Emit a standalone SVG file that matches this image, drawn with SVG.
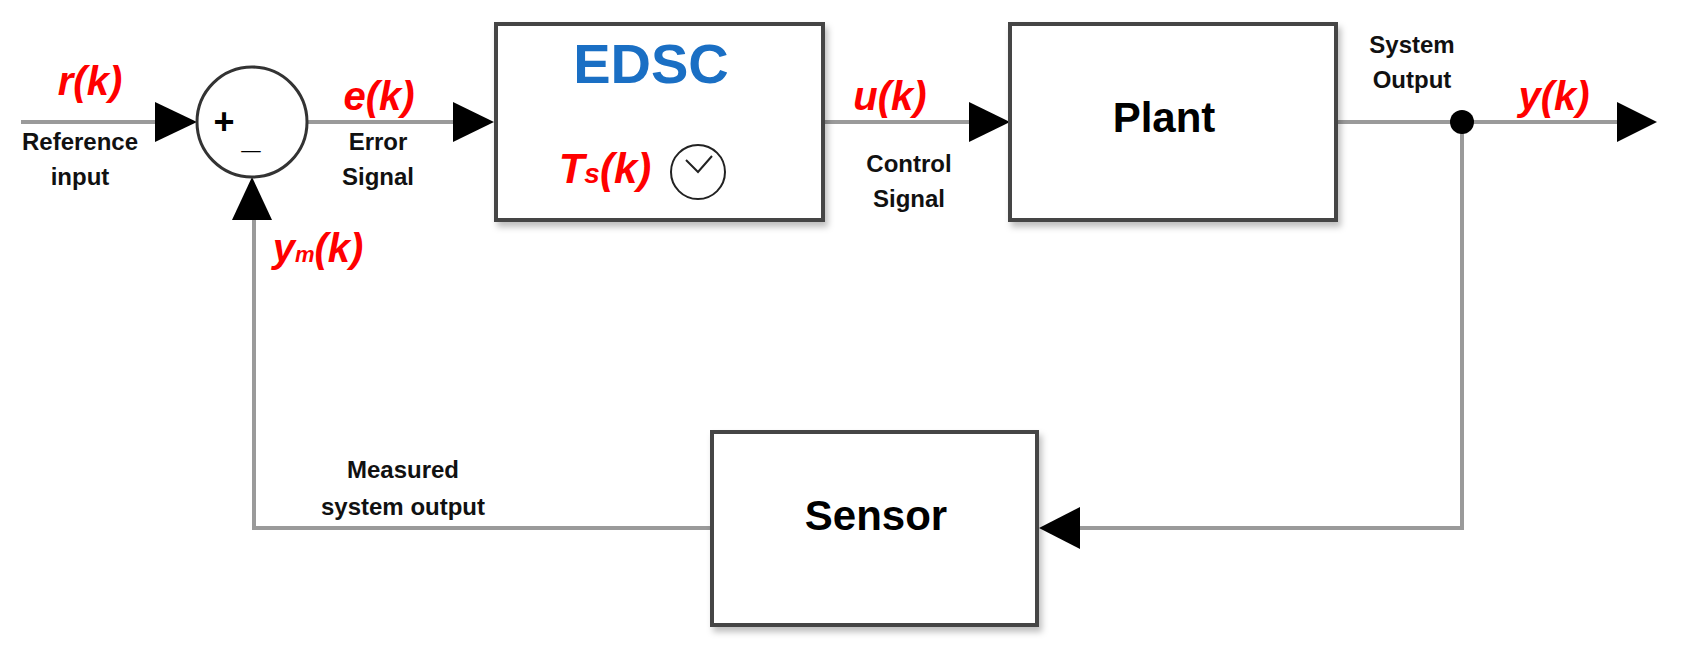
<svg xmlns="http://www.w3.org/2000/svg" width="1681" height="670" viewBox="0 0 1681 670">
<defs>
<style>
.ln{stroke:#9a9a9a;stroke-width:4;fill:none}
.box{fill:#fff;stroke:#444;stroke-width:4}
.ah{fill:#000}
.red{fill:#f00;font-family:"Liberation Sans",Arial,sans-serif;font-weight:bold;font-style:italic;font-size:40px;text-anchor:middle}
.lab{fill:#111;font-family:"Liberation Sans Narrow","Liberation Sans",Arial,sans-serif;font-weight:bold;font-size:24px;text-anchor:middle}
.big{fill:#000;font-family:"Liberation Sans",Arial,sans-serif;font-weight:bold;font-size:42px;text-anchor:middle}
</style>
<filter id="sh" x="-10%" y="-10%" width="130%" height="130%"><feDropShadow dx="3" dy="5" stdDeviation="3" flood-color="#000" flood-opacity="0.25"/></filter>
</defs>
<g id="connectors">
<line class="ln" x1="21" y1="122" x2="160" y2="122"/>
<line class="ln" x1="307" y1="122" x2="456" y2="122"/>
<line class="ln" x1="823" y1="122" x2="972" y2="122"/>
<line class="ln" x1="1336" y1="122" x2="1620" y2="122"/>
<polyline class="ln" points="1462,122 1462,528 1078,528"/>
<polyline class="ln" points="712,528 254,528 254,218"/>
<polygon class="ah" points="155,102 197,122 155,142"/>
<polygon class="ah" points="453,102 494,122 453,142"/>
<polygon class="ah" points="969,102 1010,122 969,142"/>
<polygon class="ah" points="1617,102 1657,122 1617,142"/>
<polygon class="ah" points="232,220 252,177 272,220"/>
<polygon class="ah" points="1080,507 1039,528 1080,549"/>
<circle cx="1462" cy="122" r="12" fill="#000"/>
</g>
<g id="sum">
<circle cx="252" cy="122" r="55" fill="#fff" stroke="#333" stroke-width="3"/>
<text x="224" y="134" style="font-family:'Liberation Sans',Arial,sans-serif;font-size:36px;font-weight:bold;text-anchor:middle" fill="#000">+</text>
<text x="251" y="148" style="font-family:'Liberation Sans',Arial,sans-serif;font-size:34px;text-anchor:middle;font-weight:bold" fill="#000">_</text>
</g>
<g id="edsc">
<rect class="box" x="496" y="24" width="327" height="196" filter="url(#sh)"/>
<text x="651" y="83" style="font-family:'Liberation Sans',Arial,sans-serif;font-weight:bold;font-size:56px;text-anchor:middle" fill="#1a6fc4">EDSC</text>
<text x="605" y="183" class="red" style="font-size:42px">T<tspan font-size="28px">s</tspan>(k)</text>
<circle cx="698" cy="172" r="27" fill="#fff" stroke="#222" stroke-width="2"/>
<polyline points="686,160 698,172 712,156" fill="none" stroke="#222" stroke-width="2"/>
</g>
<g id="plant">
<rect class="box" x="1010" y="24" width="326" height="196" filter="url(#sh)"/>
<text x="1164" y="132" class="big">Plant</text>
</g>
<g id="sensor">
<rect class="box" x="712" y="432" width="325" height="193" filter="url(#sh)"/>
<text x="876" y="530" class="big">Sensor</text>
</g>
<g id="labels">
<text x="90" y="95" class="red">r(k)</text>
<text x="80" y="150" class="lab">Reference</text>
<text x="80" y="185" class="lab">input</text>
<text x="379" y="110" class="red">e(k)</text>
<text x="378" y="150" class="lab">Error</text>
<text x="378" y="185" class="lab">Signal</text>
<text x="318" y="262" class="red">y<tspan font-size="22px">m</tspan>(k)</text>
<text x="890" y="110" class="red">u(k)</text>
<text x="909" y="172" class="lab">Control</text>
<text x="909" y="207" class="lab">Signal</text>
<text x="1412" y="53" class="lab">System</text>
<text x="1412" y="88" class="lab">Output</text>
<text x="1554" y="110" class="red">y(k)</text>
<text x="403" y="478" class="lab">Measured</text>
<text x="403" y="515" class="lab">system output</text>
</g>
</svg>
